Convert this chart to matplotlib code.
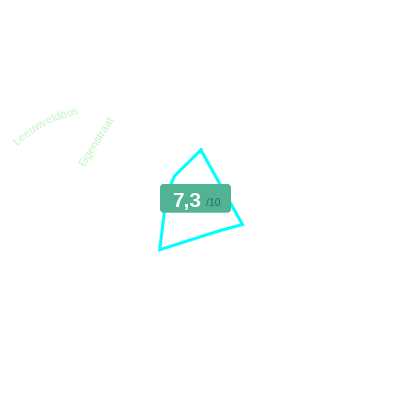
import matplotlib

matplotlib.use("Agg")

import matplotlib.pyplot as plt  # noqa: E402
import numpy as np  # noqa: E402
from matplotlib.patches import FancyBboxPatch  # noqa: E402

# radar axes (degrees, counter-clockwise from east) and scores on 0-10
axis_angles = [89, 137, 173, 231, 300, 330]
scores = [5.0, 3.5, 3.4, 6.4, 3.6, 4.9]
score_text = "7,3"
score_max = "/10"
curved_label = "Leeuwveldbos"
straight_label = "Eigenstraat"

_LINE = "#00ffff"
_LABEL = "#c4f5c4"
_BADGE = "#52b394"
_BADGE_DARK = "#2f6b5a"
W = H = 400

plt.rcParams["font.family"] = ["Liberation Sans", "DejaVu Sans"]

fig = plt.figure(figsize=(4, 4), dpi=100, facecolor="white")
ax = fig.add_axes([0.25, 0.25, 0.5, 0.5], projection="polar")
theta = np.deg2rad(axis_angles + axis_angles[:1])
r = scores + scores[:1]
ax.plot(theta, r, color=_LINE, lw=2.2, solid_joinstyle="miter")
ax.set_ylim(0, 10)
ax.set_axis_off()


def px(x, y):
    # pixel position (y measured from top) -> figure fraction
    return x / W, 1 - y / H


def arc_text(text, cx, cy, radius, start_deg, size, color):
    renderer = fig.canvas.get_renderer()
    widths = []
    for ch in text:
        t = fig.text(0, 0, ch, fontsize=size)
        widths.append(t.get_window_extent(renderer).width)
        t.remove()
    ang = np.deg2rad(start_deg)
    for ch, w in zip(text, widths):
        half = w / 2 / radius
        ang -= half
        x = cx + radius * np.cos(ang)
        y = (H - cy) + radius * np.sin(ang)
        fig.text(x / W, y / H, ch, fontsize=size, color=color,
                 rotation=np.rad2deg(ang) - 90, rotation_mode="anchor",
                 ha="center", va="center")
        ang -= half


arc_text(curved_label, 101, 231, 122, 134.5, 8, _LABEL)
fig.text(*px(97, 141), straight_label, fontsize=8, color=_LABEL, rotation=58,
         rotation_mode="anchor", ha="center", va="center")

# score badge
bx0, by0 = px(160, 212.7)
bx1, by1 = px(231, 184)
badge = FancyBboxPatch((bx0, by0), bx1 - bx0, by1 - by0,
                       boxstyle="round,pad=0,rounding_size=0.01",
                       transform=fig.transFigure, facecolor=_BADGE,
                       edgecolor="none")
fig.patches.append(badge)
fig.text(*px(172.5, 206.5), score_text, fontsize=15, fontweight="bold",
         color="white", ha="left", va="baseline")
fig.text(*px(205.5, 206), score_max, fontsize=7.6, color=_BADGE_DARK,
         ha="left", va="baseline")

fig.savefig("out.png", dpi=100, facecolor="white")
plt.close(fig)
